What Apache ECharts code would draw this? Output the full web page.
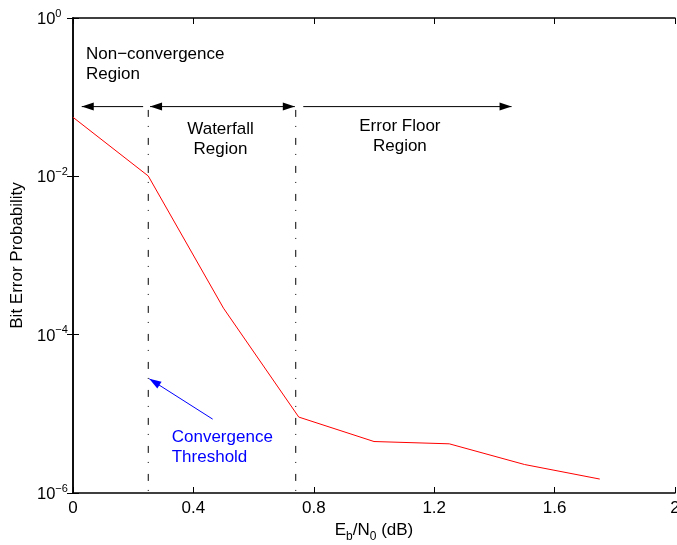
<!DOCTYPE html>
<html>
<head>
<meta charset="utf-8">
<script src="https://cdn.jsdelivr.net/npm/echarts@6/dist/echarts.min.js"></script>
<style>
  html, body { margin: 0; padding: 0; background: #fff; overflow: hidden; }
  #chart { width: 677px; height: 545px; }
</style>
</head>
<body>
<div id="chart"></div>
<script>
// Bit error rate versus Eb/N0 for an iterative decoder
const ebn0 = [0, 0.25, 0.5, 0.75, 1.0, 1.25, 1.5, 1.75];
const ber = [0.0557, 0.0101, 2.16e-4, 9.1e-6, 4.47e-6, 4.18e-6, 2.29e-6, 1.5e-6];

// Axis ranges and ticks
const xTicks = [0, 0.4, 0.8, 1.2, 1.6, 2];
const yDecades = [-6, -4, -2, 0];

// Region boundaries (dash-dot verticals): [x, yTop, yBottom]
const boundaries = [
  [0.25, 0.069, 1e-6],
  [0.74, 0.069, 1e-6]
];

// Arrows: [x1, y1, x2, y2, headAtStart, headAtEnd, colour]
const arrows = [
  [0.029, 0.076, 0.233, 0.076, 1, 0, '#000000'],
  [0.256, 0.076, 0.737, 0.076, 1, 1, '#000000'],
  [0.765, 0.076, 1.457, 0.076, 0, 1, '#000000'],
  [0.464, 8.57e-6, 0.2535, 2.77e-5, 0, 1, '#0000ff']
];

// Annotation texts: [x, y, text, align, colour]
const notes = [
  [0.0432, 0.257, 'Non\u2212convergence\nRegion', 'left', '#000000'],
  [0.49, 0.0294, 'Waterfall\nRegion', 'center', '#000000'],
  [1.086, 0.0317, 'Error Floor\nRegion', 'center', '#000000'],
  [0.328, 3.83e-6, 'Convergence\nThreshold', 'left', '#0000ff']
];

const FONT = '"Liberation Sans", Arial, Helvetica, sans-serif';

const chart = echarts.init(document.getElementById('chart'), null, { renderer: 'canvas' });

const frameLine = { show: true, lineStyle: { color: '#000', width: 1.5 } };
const innerTick = { show: true, inside: true, length: 6, lineStyle: { color: '#000', width: 1 } };

function supLabel(v) {
  const e = Math.round(Math.log10(v));
  const s = e < 0 ? '\u2212' + (-e) : String(e);
  return '{b|10}{e|' + s + '}';
}

function arrowHead(tip, from, len, half) {
  const dx = tip[0] - from[0], dy = tip[1] - from[1];
  const d = Math.sqrt(dx * dx + dy * dy) || 1;
  const ux = dx / d, uy = dy / d;
  const bx = tip[0] - ux * len, by = tip[1] - uy * len;
  return [tip, [bx - uy * half, by + ux * half], [bx + uy * half, by - ux * half]];
}

const series = [
  {
    type: 'line',
    data: ebn0.map((x, i) => [x, ber[i]]),
    showSymbol: false,
    symbol: 'none',
    lineStyle: { color: '#ff0000', width: 1 },
    silent: true,
    animation: false,
    z: 5
  }
];

boundaries.forEach(b => {
  series.push({
    type: 'line',
    data: [[b[0], b[1]], [b[0], b[2]]],
    symbol: 'none',
    lineStyle: { color: '#000', width: 1, type: [7, 9, 1, 11] },
    silent: true,
    animation: false,
    z: 3
  });
});

series.push({
  type: 'custom',
  data: arrows.map(a => [a[0], a[1], a[2], a[3]]),
  renderItem: function (params, api) {
    const a = arrows[params.dataIndex];
    const p1 = api.coord([a[0], a[1]]);
    const p2 = api.coord([a[2], a[3]]);
    const col = a[6];
    const children = [{
      type: 'line',
      shape: { x1: p1[0], y1: p1[1], x2: p2[0], y2: p2[1] },
      style: { stroke: col, lineWidth: 1 }
    }];
    if (a[4]) children.push({ type: 'polygon', shape: { points: arrowHead(p1, p2, 12, 4) }, style: { fill: col } });
    if (a[5]) children.push({ type: 'polygon', shape: { points: arrowHead(p2, p1, 12, 4) }, style: { fill: col } });
    return { type: 'group', children: children };
  },
  silent: true,
  animation: false,
  z: 6
});

series.push({
  type: 'custom',
  data: notes.map(n => [n[0], n[1]]),
  renderItem: function (params, api) {
    const n = notes[params.dataIndex];
    const p = api.coord([n[0], n[1]]);
    return {
      type: 'text',
      style: {
        text: n[2], x: p[0], y: p[1],
        fill: n[4], fontSize: 17, fontFamily: FONT,
        align: n[3], verticalAlign: 'middle', lineHeight: 20
      }
    };
  },
  silent: true,
  animation: false,
  z: 7
});

chart.setOption({
  animation: false,
  backgroundColor: '#ffffff',
  grid: { left: 73, right: 2, top: 18, bottom: 52, containLabel: false, outerBoundsMode: 'none' },
  xAxis: [
    {
      type: 'value', min: xTicks[0], max: xTicks[xTicks.length - 1], interval: 0.4,
      position: 'bottom',
      axisLine: frameLine, axisTick: innerTick, splitLine: { show: false },
      axisLabel: {
        color: '#000', fontSize: 17, fontFamily: FONT, margin: 7,
        formatter: v => String(Math.round(v * 10) / 10)
      },
      name: '{n|E}{s|b}{n|/N}{s|0}{n| (dB)}',
      nameLocation: 'middle', nameGap: 23,
      nameTextStyle: {
        color: '#000', fontFamily: FONT,
        rich: {
          n: { fontSize: 17, lineHeight: 24, fontFamily: FONT, color: '#000' },
          s: { fontSize: 12, lineHeight: 12, verticalAlign: 'bottom', fontFamily: FONT, color: '#000' }
        }
      }
    },
    {
      type: 'value', min: xTicks[0], max: xTicks[xTicks.length - 1], interval: 0.4,
      position: 'top',
      axisLine: frameLine, axisTick: innerTick, axisLabel: { show: false }, splitLine: { show: false }
    }
  ],
  yAxis: [
    {
      type: 'log', logBase: 10, min: Math.pow(10, yDecades[0]), max: Math.pow(10, yDecades[yDecades.length - 1]),
      interval: 2, minorTick: { show: false },
      position: 'left',
      axisLine: frameLine, axisTick: innerTick, splitLine: { show: false },
      axisLabel: {
        align: 'left', margin: 36, formatter: supLabel,
        rich: {
          b: { fontSize: 16.5, lineHeight: 26, fontFamily: FONT, color: '#000', padding: [3, 0, 0, 0] },
          e: { fontSize: 11, lineHeight: 11, verticalAlign: 'top', fontFamily: FONT, color: '#000', padding: [3, 0, 0, 0] }
        }
      },
      name: 'Bit Error Probability',
      nameLocation: 'middle', nameGap: 45,
      nameTextStyle: { color: '#000', fontSize: 17, fontFamily: FONT }
    },
    {
      type: 'log', logBase: 10, min: Math.pow(10, yDecades[0]), max: Math.pow(10, yDecades[yDecades.length - 1]),
      interval: 2,
      position: 'right',
      axisLine: frameLine, axisTick: innerTick, axisLabel: { show: false }, splitLine: { show: false }
    }
  ],
  series: series
});
</script>
</body>
</html>
